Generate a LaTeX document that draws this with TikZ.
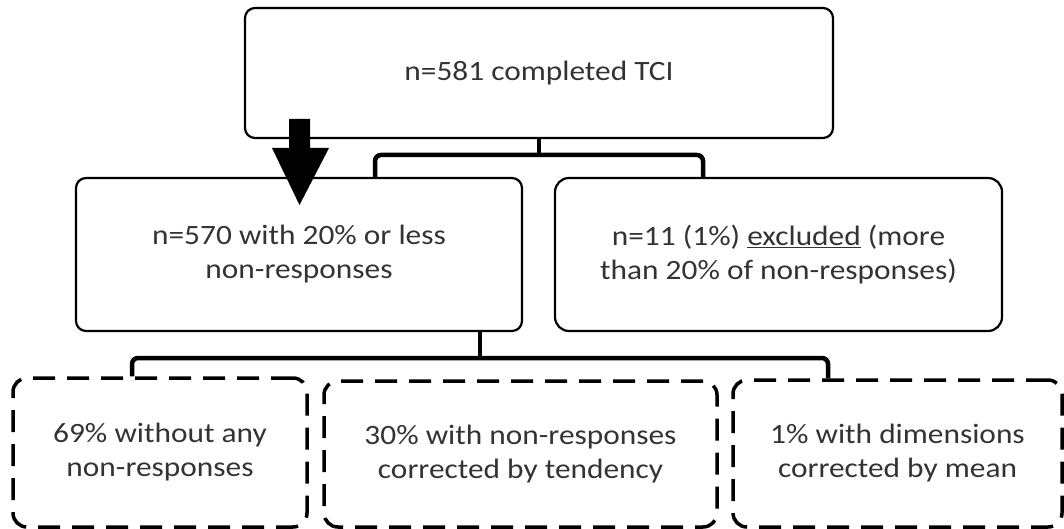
\documentclass[tikz,border=0pt]{standalone}
\usepackage{fontspec}
\setmainfont{Carlito}[FakeStretch=1.12]
\begin{document}
\begin{tikzpicture}[x=1pt,y=-1pt,
  box/.style={draw, line width=2.2pt, rounded corners=10pt, align=center,
    font=\fontsize{28}{34}\selectfont, inner sep=0pt, text=black!80},
  dbox/.style={box, line width=3.5pt, dash pattern=on 22pt off 12pt, rounded corners=14pt},
  bracket/.style={line width=4.5pt, rounded corners=6pt}]
\useasboundingbox (0,0) rectangle (1064,529);
% boxes
\node[box, minimum width=588pt, minimum height=130pt] (top) at (539,73) {n=581 completed TCI};
\node[box, minimum width=446pt, minimum height=153pt] (mid1) at (299,254.5) {n=570 with 20\% or less\\non-responses};
\node[box, minimum width=447pt, minimum height=153pt, rounded corners=14pt] (mid2) at (778.5,254.5) {n=11 (1\%) \underline{excluded} (more\\than 20\% of non-responses)};
\node[dbox, minimum width=294pt, minimum height=149pt] (d1) at (160,452.5) {69\% without any\\non-responses};
\node[dbox, minimum width=393pt, minimum height=146pt] (d2) at (520.5,454) {30\% with non-responses\\corrected by tendency};
\node[dbox, minimum width=329pt, minimum height=147pt] (d3) at (897.5,453.5) {1\% with dimensions\\corrected by mean};
% first bracket
\coordinate (j1) at (539,155);
\coordinate (j1l) at (375,155);
\coordinate (j1r) at (703,155);
\draw[bracket] (top.south) -- (j1);
\draw[bracket] (mid1.north -| j1l) -- (j1l) -- (j1r) -- (mid2.north -| j1r);
% second bracket
\coordinate (j2) at (480,358);
\coordinate (j2l) at (132,358);
\coordinate (j2r) at (828,358);
\draw[bracket] (mid1.south -| j2) -- (j2);
\draw[bracket] (d1.north -| j2l) -- (j2l) -- (j2r) -- (d3.north -| j2r);
% block arrow
\fill (289,119) -- (310,119) -- (310,148) -- (329,148) -- (299.5,205) -- (272,148) -- (289,148) -- cycle;
\end{tikzpicture}
\end{document}
